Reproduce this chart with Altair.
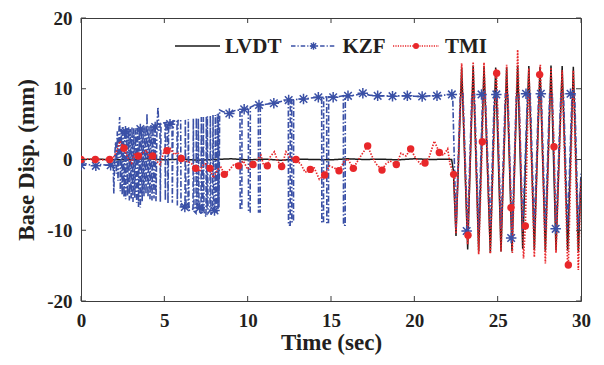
import altair as alt
import pandas as pd

SERIES = ["LVDT", "KZF", "TMI"]
BLACK, BLUE, RED = "#1a1a1a", "#3a50a6", "#e8272a"
COLORS = [BLACK, BLUE, RED]
DASHES = [[1, 0], [6, 2, 1.5, 2], [1.5, 1.5]]
WIDTHS = [1.5, 1.7, 1.5]
TEXT = "#231f20"
FONT = "Liberation Serif"

x_ticks = [0, 5, 10, 15, 20, 25, 30]
y_ticks = [-20, -10, 0, 10, 20]

# ---------------- LVDT (time s, displacement mm) ----------------
lvdt_flat = [(0, 0.0), (1, 0.05), (2, -0.05), (3, 0.0), (4, 0.1), (5, -0.05), (6, 0.05),
             (7, -0.1), (8, 0.0), (9, 0.1), (10, -0.05), (11, 0.05), (12, -0.1), (13, 0.05),
             (14, 0.0), (15, -0.05), (16, 0.1), (17, 0.0), (18, 0.05), (19, -0.05), (20, 0.1),
             (21, 0.0), (22, 0.05), (22.24, 0.0), (22.34, -1.5)]
lvdt_osc = [(22.5, -10.8), (22.84, 13.0), (23.2, -12.7), (23.53, 13.3), (23.86, -13.0),
            (24.18, 13.2), (24.56, -13.2), (24.88, 13.0), (25.2, -13.0), (25.54, 13.0),
            (25.86, -13.0), (26.2, 13.3), (26.5, -12.6), (26.87, 13.2), (27.2, -12.8),
            (27.54, 13.1), (27.86, -12.9), (28.2, 13.3), (28.5, -12.8), (28.87, 13.2),
            (29.2, -12.9), (29.54, 13.1), (29.84, -13.0), (30.0, -2.5)]

# ---------------- KZF ----------------
kzf_start = [(0, -0.8), (0.3, -0.6), (0.6, -0.8), (0.89, -0.9), (1.2, -0.7), (1.5, -0.8),
             (1.78, -0.8), (1.93, -0.6)]
kzf_noise = [(1.97, -4.8), (2.02, 0.5), (2.08, 2.5), (2.12, -2.0), (2.18, 4.0), (2.22, -3.0),
             (2.28, 4.2), (2.32, 6.0), (2.36, -4.5), (2.42, 4.3), (2.47, -5.0), (2.52, 4.6),
             (2.58, -5.3), (2.63, 4.2), (2.68, -5.6), (2.74, 4.5), (2.79, -5.2), (2.85, 4.4),
             (2.9, -5.8), (2.95, 4.3), (3.01, -5.5), (3.06, 4.6), (3.12, -6.0), (3.17, 4.4),
             (3.23, -5.4), (3.28, 4.2), (3.34, -6.1), (3.39, 4.5), (3.45, -6.7), (3.5, 4.3),
             (3.56, -6.8), (3.61, 4.4), (3.67, -5.9), (3.72, 4.6), (3.78, -5.2), (3.84, 4.8),
             (3.9, -4.9), (3.96, 6.5), (4.02, -5.3), (4.08, 4.7), (4.14, -5.6), (4.2, 4.9),
             (4.26, -5.8), (4.32, 4.8), (4.38, -5.5), (4.44, 5.0), (4.5, -5.9)]
kzf_bars = [(4.56, 4.9), (4.62, 7.4), (4.66, 5.0), (4.74, 5.0), (4.76, -6.0), (4.8, 5.1),
            (5.04, 5.2), (5.06, -5.8), (5.1, 5.2), (5.2, 5.2), (5.22, -6.2), (5.26, 5.3),
            (5.46, 5.3), (5.48, -6.1), (5.52, 5.4), (5.76, 5.5), (5.78, -6.5), (5.82, 5.5),
            (5.98, 5.6), (6.0, -6.6), (6.24, -6.7), (6.26, 5.6), (6.3, -6.9), (6.42, -7.0),
            (6.44, 5.7), (6.48, -7.2), (6.72, -7.0), (6.74, 5.8), (6.78, -7.3), (6.9, -7.6),
            (6.92, 5.9), (6.96, -7.1), (7.02, -6.9), (7.04, 5.8), (7.08, -6.8), (7.2, -7.8),
            (7.22, 6.0), (7.26, -7.5), (7.32, -7.5), (7.34, 6.0), (7.38, -7.4), (7.5, -8.1),
            (7.52, 6.1), (7.56, -7.0), (7.58, 6.1), (7.62, -7.6), (7.74, -7.2), (7.76, 6.2),
            (7.8, -7.8), (7.9, -7.3), (7.92, 6.3), (7.96, -7.2), (8.04, -7.3), (8.06, 6.3),
            (8.1, -7.4), (8.16, -7.4), (8.18, 6.4), (8.22, -7.0), (8.24, 6.5), (8.28, -6.8),
            (8.32, 7.0)]
kzf_curve = [(8.5, 6.8), (8.84, 6.5), (9.2, 6.9), (9.54, 7.0), (9.55, -7.0), (9.65, -7.0),
             (9.66, 7.0), (9.79, 7.1), (10.04, 7.3), (10.05, -7.4), (10.15, -7.4), (10.16, 7.4),
             (10.35, 7.6), (10.64, 7.7), (10.65, -7.4), (10.75, -7.4), (10.76, 7.7), (11.1, 7.8),
             (11.54, 7.95), (12.0, 8.2), (12.44, 8.4), (12.45, -9.3), (12.55, -9.3), (12.56, 8.4),
             (12.64, 8.45), (12.65, -8.8), (12.75, -8.8), (12.76, 8.45), (13.0, 8.5),
             (13.34, 8.55), (13.8, 8.7), (14.24, 8.8), (14.44, 8.8), (14.45, -8.9), (14.55, -8.9),
             (14.56, 8.8), (14.74, 8.85), (14.75, -8.9), (14.85, -8.9), (14.86, 8.85),
             (15.14, 8.8), (15.5, 8.9), (15.74, 9.0), (15.75, -9.3), (15.85, -9.3), (15.86, 9.0),
             (15.98, 9.0), (16.5, 9.1), (16.91, 9.36), (17.3, 9.1), (17.8, 9.0), (18.2, 9.0),
             (18.69, 8.95), (19.1, 9.0), (19.58, 9.0), (20.0, 8.95), (20.47, 8.9), (20.9, 9.0),
             (21.36, 9.0), (21.8, 9.1), (22.25, 9.2)]
kzf_osc = [(22.3, 9.2), (22.5, -9.7), (22.76, 9.3), (22.92, 9.3), (23.2, -10.1), (23.45, 9.3),
           (23.61, 9.3), (23.86, -10.0), (24.1, 9.2), (24.26, 9.2), (24.56, -9.8), (24.8, 9.3),
           (24.96, 9.3), (25.2, -9.9), (25.46, 9.3), (25.62, 9.3), (25.86, -11.1), (26.12, 9.3),
           (26.28, 9.3), (26.5, -10.0), (26.79, 9.3), (26.95, 9.3), (27.2, -9.8), (27.46, 9.3),
           (27.62, 9.3), (27.86, -10.0), (28.12, 9.3), (28.28, 9.3), (28.5, -9.8), (28.79, 9.3),
           (28.95, 9.3), (29.2, -9.9), (29.46, 9.3), (29.62, 9.3), (29.84, -10.0), (30.0, -2.0)]
kzf_marks = [(0, -0.8), (0.89, -0.9), (1.78, -0.8), (2.67, 4.0), (3.56, 4.3), (4.45, 4.6),
             (5.34, 5.0), (6.23, -6.7), (7.12, -6.8), (8.01, -7.2), (8.9, 6.5), (9.79, 7.1),
             (10.68, 7.7), (11.57, 7.95), (12.46, 8.4), (13.35, 8.55), (14.24, 8.8), (15.13, 8.8),
             (16.02, 9.0), (16.91, 9.36), (17.8, 9.0), (18.69, 8.95), (19.58, 9.0), (20.47, 8.9),
             (21.36, 9.0), (22.25, 9.2), (23.14, -10.1), (24.03, 9.2), (24.92, 9.2),
             (25.81, -11.1), (26.7, 9.3), (27.59, 9.3), (28.48, -9.8), (29.37, 9.3)]

# ---------------- TMI ----------------
tmi_pre = [(0, 0.0), (0.43, 0.05), (0.86, 0.0), (1.3, -0.05), (1.72, 0.0), (1.95, 0.3),
           (2.15, 1.2), (2.34, 2.6), (2.58, 1.6), (2.8, 0.3), (3.04, -0.5), (3.22, 0.9),
           (3.44, 0.5), (3.7, 0.9), (3.94, 1.3), (4.1, 0.2), (4.3, 0.5), (4.5, -0.1),
           (4.74, -0.7), (4.95, 0.9), (5.16, 1.25), (5.34, 1.6), (5.6, 0.7), (5.8, 1.0),
           (6.02, 0.15), (6.3, -0.2), (6.6, -0.5), (6.88, -1.25), (7.1, -1.7), (7.35, -0.7),
           (7.5, -0.6), (7.74, -1.25), (7.94, -2.6), (8.2, -1.4), (8.4, -1.1), (8.6, -2.1),
           (8.9, -1.5), (9.2, -0.6), (9.46, -0.9), (9.74, -0.2), (10.0, -1.4), (10.32, -0.7),
           (10.55, -0.1), (10.8, 0.6), (10.95, -0.8), (11.18, -0.9), (11.36, 0.4), (11.6, 1.1),
           (11.8, -0.2), (12.04, -1.0), (12.3, 1.1), (12.55, 0.2), (12.9, 0.0), (13.2, -0.7),
           (13.45, -1.8), (13.76, -1.4), (14.0, -1.2), (14.3, -2.8), (14.62, -2.2), (14.9, -0.9),
           (15.2, -1.2), (15.48, -1.6), (15.75, -0.4), (16.0, 0.1), (16.34, -1.25), (16.6, -0.2),
           (16.9, 0.9), (17.2, 1.9), (17.45, 0.5), (17.7, -0.6), (18.06, -1.5), (18.3, -0.6),
           (18.55, -0.2), (18.92, -0.7), (19.2, 0.9), (19.5, 0.5), (19.78, 1.5), (20.05, 0.3),
           (20.35, -0.6), (20.64, -0.5), (20.9, 0.4), (21.2, 2.6), (21.5, 1.0), (21.75, 0.6),
           (22.0, 1.5), (22.14, -0.6)]
tmi_osc = [(22.36, -2.1), (22.5, -10.5), (22.84, 13.6), (23.2, -12.0), (23.22, -10.7),
           (23.53, 13.8), (23.86, -13.4), (24.08, 2.5), (24.18, 13.7), (24.56, -13.3),
           (24.9, 12.8), (24.94, 12.2), (25.2, -13.0), (25.54, 13.4), (25.8, -6.8),
           (25.88, -13.2), (26.2, 15.5), (26.55, -14.0), (26.66, -9.4), (26.87, 12.9),
           (27.2, -13.8), (27.52, 12.0), (27.56, 13.4), (27.86, -14.7), (28.2, 13.0),
           (28.38, 1.8), (28.5, -13.2), (28.87, 12.6), (29.2, -15.2), (29.24, -14.9),
           (29.54, 12.6), (29.84, -15.6), (30.0, -3.0)]
tmi_marks = [(0, 0.0), (0.86, 0.0), (1.72, 0.0), (2.58, 1.6), (3.44, 0.5), (4.3, 0.5),
             (5.16, 1.25), (6.02, 0.15), (6.88, -1.25), (7.74, -1.25), (8.6, -2.1), (9.46, -0.9),
             (10.32, -0.7), (11.18, -0.9), (12.04, -1.0), (12.9, 0.0), (13.76, -1.4),
             (14.62, -2.2), (15.48, -1.6), (16.34, -1.25), (17.2, 1.9), (18.06, -1.5),
             (18.92, -0.7), (19.78, 1.5), (20.64, -0.5), (21.5, 1.0), (22.36, -2.1),
             (23.22, -10.7), (24.08, 2.5), (24.94, 12.2), (25.8, -6.8), (26.66, -9.4),
             (27.52, 12.0), (28.38, 1.8), (29.24, -14.9)]


def frame(name, *parts):
    pts = [p for part in parts for p in part]
    return pd.DataFrame({"series": name, "t": [p[0] for p in pts],
                         "v": [p[1] for p in pts], "i": list(range(len(pts)))})


lines_df = pd.concat([
    frame("LVDT", lvdt_flat, lvdt_osc),
    frame("KZF", kzf_start, kzf_noise, kzf_bars, kzf_curve, kzf_osc),
    frame("TMI", tmi_pre, tmi_osc),
], ignore_index=True)
kzf_df = frame("KZF", kzf_marks)
tmi_df = frame("TMI", tmi_marks)

xs = alt.Scale(domain=[0, 30], nice=False, zero=False)
ys = alt.Scale(domain=[-20, 20], nice=False, zero=False)
xaxis = alt.Axis(values=x_ticks, title="Time (sec)", ticks=False, tickSize=0, domain=False,
                 grid=False, labelFlush=False, labelOverlap=False, labelPadding=10,
                 titlePadding=1, labelExpr="'' + datum.value", titleFontSize=23)
yaxis = alt.Axis(values=y_ticks, title="Base Disp. (mm)", ticks=False, tickSize=0, domain=False,
                 grid=False, labelFlush=False, labelOverlap=False, labelPadding=9,
                 titlePadding=8, labelExpr="'' + datum.value", titleFontSize=23)
X = alt.X("t:Q", scale=xs, axis=xaxis)
Y = alt.Y("v:Q", scale=ys, axis=yaxis)

lines = alt.Chart(lines_df).mark_line(clip=True).encode(
    x=X, y=Y,
    color=alt.Color("series:N", scale=alt.Scale(domain=SERIES, range=COLORS), legend=None),
    strokeDash=alt.StrokeDash("series:N", scale=alt.Scale(domain=SERIES, range=DASHES), legend=None),
    strokeWidth=alt.StrokeWidth("series:N", scale=alt.Scale(domain=SERIES, range=WIDTHS), legend=None),
    order="i:Q",
)

ASTERISK = "M0,-1L0,1M-1,0L1,0M-0.72,-0.72L0.72,0.72M-0.72,0.72L0.72,-0.72"
kzf_pts = alt.Chart(kzf_df).mark_point(shape=ASTERISK, size=110, filled=False, strokeWidth=1.5,
                                       color=BLUE, opacity=1, clip=True).encode(x=X, y=Y)
tmi_pts = alt.Chart(tmi_df).mark_point(shape="circle", size=55, filled=True, color=RED,
                                       opacity=1, clip=True).encode(x=X, y=Y)

# ---------- inward ticks on all four sides ----------
xt = pd.DataFrame({"t": x_ticks})
yt = pd.DataFrame({"v": y_ticks})
TICK = "#3c3c3c"
tick_b = alt.Chart(xt).mark_rule(color=TICK, strokeWidth=1).encode(
    x=X, y=alt.value(283), y2=alt.value(278))
tick_t = alt.Chart(xt).mark_rule(color=TICK, strokeWidth=1).encode(
    x=X, y=alt.value(0), y2=alt.value(5))
tick_l = alt.Chart(yt).mark_rule(color=TICK, strokeWidth=1).encode(
    y=Y, x=alt.value(0), x2=alt.value(5))
tick_r = alt.Chart(yt).mark_rule(color=TICK, strokeWidth=1).encode(
    y=Y, x=alt.value(500), x2=alt.value(495))

# ---------- legend box (inside the plot, top) ----------
leg_df = pd.DataFrame({"series": SERIES})
LY = 28


def leg_entry(name):
    return alt.Chart(leg_df).transform_filter(alt.datum.series == name)


leg_layers = [
    leg_entry("LVDT").mark_rule(color=BLACK, strokeWidth=1.5).encode(
        x=alt.value(94), x2=alt.value(139), y=alt.value(LY)),
    leg_entry("KZF").mark_rule(color=BLUE, strokeWidth=1.5, strokeDash=[4.5, 2, 1.2, 2]).encode(
        x=alt.value(210), x2=alt.value(255), y=alt.value(LY)),
    leg_entry("KZF").mark_point(shape=ASTERISK, size=55, filled=False, strokeWidth=1.4,
                                color=BLUE, opacity=1).encode(x=alt.value(232.5), y=alt.value(LY)),
    leg_entry("TMI").mark_rule(color=RED, strokeWidth=1.5, strokeDash=[1.2, 1.2]).encode(
        x=alt.value(312), x2=alt.value(358), y=alt.value(LY)),
    leg_entry("TMI").mark_point(shape="circle", size=36, filled=True, color=RED,
                                opacity=1).encode(x=alt.value(335), y=alt.value(LY)),
]
for name, lx in [("LVDT", 144), ("KZF", 261.5), ("TMI", 364)]:
    leg_layers.append(
        leg_entry(name).mark_text(align="left", baseline="middle", font=FONT, fontSize=21,
                                  fontWeight="bold", color=TEXT, dy=1).encode(
            text="series:N", x=alt.value(lx), y=alt.value(LY)))

chart = alt.layer(lines, kzf_pts, tmi_pts, tick_b, tick_t, tick_l, tick_r, *leg_layers).properties(
    width=500, height=283,
    padding={"left": 73, "top": 10, "right": 12, "bottom": 56},
    autosize=alt.AutoSizeParams(type="none"),
).configure_axis(
    labelFont=FONT, labelFontSize=19, labelFontWeight="bold", labelColor=TEXT,
    titleFont=FONT, titleFontWeight="bold", titleColor=TEXT,
).configure_view(stroke="#3c3c3c", strokeWidth=1)

chart.save("out.html", embed_options={"renderer": "svg", "actions": False})
